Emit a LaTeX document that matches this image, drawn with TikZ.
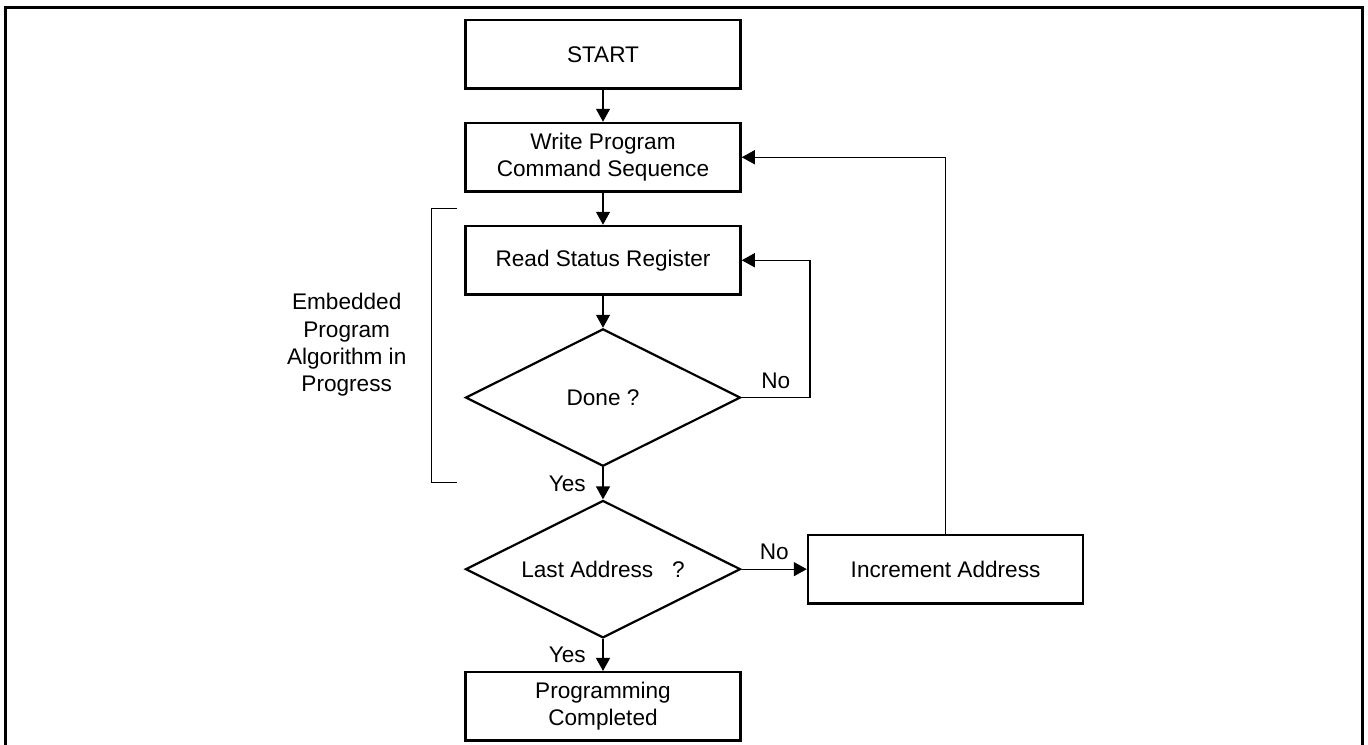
\documentclass[tikz,border=0pt]{standalone}
\usepackage{fontspec}
\setmainfont{Liberation Sans}
\usetikzlibrary{arrows.meta,positioning,shapes.geometric}

\begin{document}
\begin{tikzpicture}[x=0.5pt,y=-0.5pt,>={Triangle[length=6.5pt,width=7pt]},
                    node distance=16pt,font=\fontsize{11.3}{13.65}\selectfont]
\tikzstyle{flowbox}=[draw,line width=1.25pt,minimum width=137.5pt,
                     minimum height=34.25pt,align=center,inner sep=2pt]
\tikzstyle{test}=[draw,diamond,aspect=2,line width=1.1pt,minimum width=137.5pt,
                  minimum height=68.7pt,inner sep=0pt]
\tikzstyle{flow}=[->,line width=0.65pt]

\useasboundingbox (0,0) rectangle (1368,744);
\draw[line width=1.5pt] (5.5,760) |- (1362.5,7.5) -- (1362.5,760);

\node[flowbox] (START) at (603,54.25) {START};
\node[flowbox] (WRITE) [below=of START] {Write Program\\Command Sequence};
\node[flowbox] (READ) [below=of WRITE] {Read Status Register};
\node[test] (DONE) [below=of READ] {Done ?};
\node[test] (LAST) [below=of DONE] {Last Address\ \ \ ?};
\node[flowbox] (FINISH) [below=of LAST] {Programming\\Completed};
\node[flowbox] (INC) [right=32.6pt of LAST] {Increment Address};
\node[align=center] (ALGO) at (346.7,345) {Embedded\\Program\\Algorithm in\\Progress};

\draw[flow] (START) -- (WRITE);
\draw[flow] (WRITE) -- (READ);
\draw[flow] (READ) -- (DONE);
\draw[flow] (DONE) -- node[left=5pt] {Yes} (LAST);
\draw[flow] (LAST) -- node[left=5pt] {Yes} (FINISH);
\draw[flow] (DONE.east) -- node[above=1pt] {No} ++(68.3,0) |- (READ.east);
\draw[flow] (LAST) -- node[above=1pt] {No} (INC);
\draw[flow] (INC) |- (WRITE);

% bracket round the embedded loop
\draw[line width=0.6pt] (457,208.3) -- (431.7,208.3) -- (431.7,482.7) -- (457,482.7);
\end{tikzpicture}
\end{document}
